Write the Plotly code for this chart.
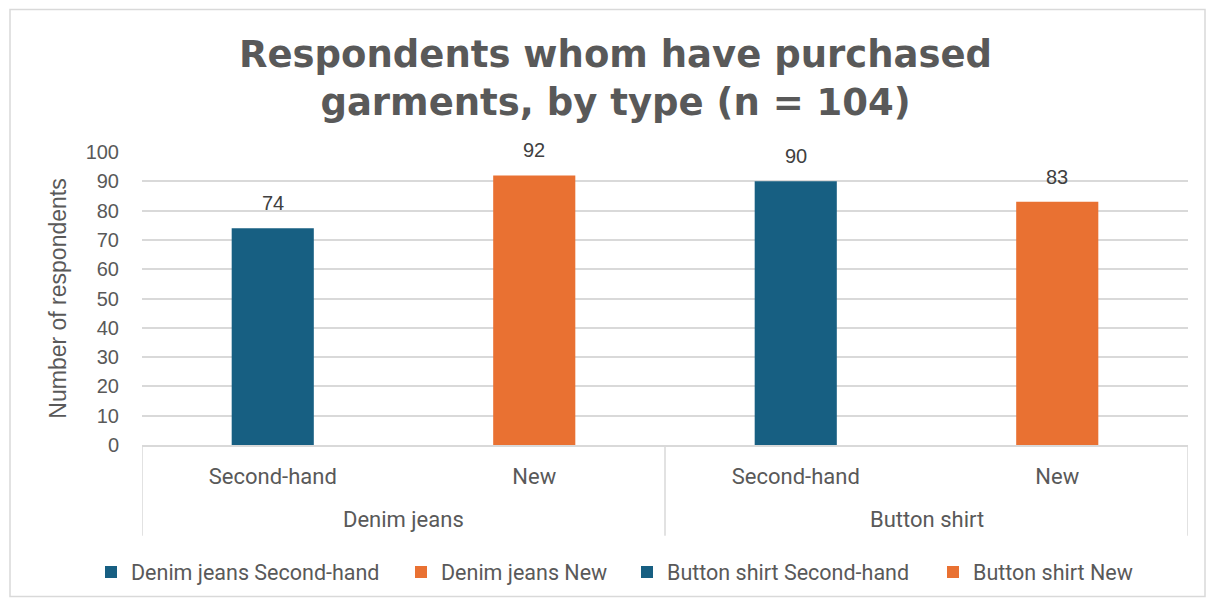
import plotly.graph_objects as go

groups = ["Denim jeans", "Denim jeans", "Button shirt", "Button shirt"]
subcats = ["Second-hand", "New", "Second-hand", "New"]
values = [74, 92, 90, 83]
series_names = ["Denim jeans Second-hand", "Denim jeans New", "Button shirt Second-hand", "Button shirt New"]
colors = ["#175F82", "#E97132", "#175F82", "#E97132"]
yticks = [0, 10, 20, 30, 40, 50, 60, 70, 80, 90, 100]

W, H = 1212, 603
ml, mr, mt, mb = 142, 24, 152, 157
pw, ph = W - ml - mr, H - mt - mb
GRID = "#D9D9D9"
TXT = "#595959"
# left pixel of each legend entry's text
legend_text_px = [131, 441, 667, 973]

def py(pix):
    """pixel row (from top) -> paper y"""
    return (H - mb - pix) / ph

def px(pix):
    return (pix - ml) / pw

positions = list(range(len(values)))

fig = go.Figure()
legend_layout = {}
for k, (xi, v, n, c) in enumerate(zip(positions, values, series_names, colors)):
    lname = "legend" if k == 0 else f"legend{k + 1}"
    fig.add_trace(go.Bar(
        x=[xi], y=[v], name=n, marker=dict(color=c, line=dict(width=0)),
        width=0.314, legend=lname,
    ))
    legend_layout[lname] = dict(orientation="h", x=px(legend_text_px[k] - 40), xanchor="left",
                                y=py(572), yanchor="middle", itemwidth=30,
                                font=dict(family="Roboto", size=21.5, color=TXT),
                                bgcolor="rgba(0,0,0,0)")
    fig.add_annotation(x=xi, y=v, xref="x", yref="y", text=str(v), showarrow=False,
                       yanchor="middle", yshift=25,
                       font=dict(family="Liberation Sans, Arial", size=20, color="#404040"))

# group labels and dividers
group_names = []
for g in groups:
    if g not in group_names:
        group_names.append(g)
for g in group_names:
    idx = [i for i, gg in enumerate(groups) if gg == g]
    fig.add_annotation(x=sum(idx) / len(idx), y=py(521), xref="x", yref="paper", text=g,
                       showarrow=False, yanchor="middle",
                       font=dict(family="Roboto", size=22, color=TXT))
bounds = [-0.5] + [i + 0.5 for i in range(len(groups) - 1) if groups[i] != groups[i + 1]] + [len(groups) - 0.5]
for b in bounds:
    fig.add_shape(type="line", xref="x", yref="paper", x0=b, x1=b, y0=0, y1=py(537),
                  line=dict(color=GRID, width=1.5))

fig.update_layout(
    width=W, height=H,
    margin=dict(l=ml, r=mr, t=mt, b=mb),
    paper_bgcolor="white", plot_bgcolor="white",
    barmode="overlay",
    showlegend=True,
    font=dict(family="Liberation Sans, Arial", color=TXT),
    **legend_layout,
)
fig.add_annotation(text="Respondents whom have purchased<br>garments, by type (n = 104)",
                   xref="paper", yref="paper", x=px(615), y=py(78), xanchor="center", yanchor="middle",
                   showarrow=False,
                   font=dict(family="DejaVu Sans", size=37, color=TXT, weight="bold"))

fig.update_yaxes(range=[0, 100], tickvals=yticks, showgrid=True, gridcolor=GRID, gridwidth=1.5,
                 zeroline=False, showline=False, ticks="", ticklabelstandoff=22,
                 tickfont=dict(family="Liberation Sans, Arial", size=20, color=TXT),
                 title=dict(text="Number of respondents", standoff=12,
                            font=dict(family="Liberation Sans, Arial", size=23, color=TXT)))
fig.update_xaxes(range=[-0.5, len(values) - 0.5], tickvals=positions, ticktext=subcats,
                 showline=True, linecolor=GRID, linewidth=1.5, showgrid=False, zeroline=False,
                 ticks="", ticklabelstandoff=11,
                 tickfont=dict(family="Roboto", size=22, color=TXT))

# chart border
fig.add_shape(type="rect", xref="paper", yref="paper",
              x0=px(10), x1=px(1205), y0=py(598), y1=py(9),
              line=dict(color=GRID, width=1.5), fillcolor="rgba(0,0,0,0)", layer="below")

fig.write_html("out.html")
